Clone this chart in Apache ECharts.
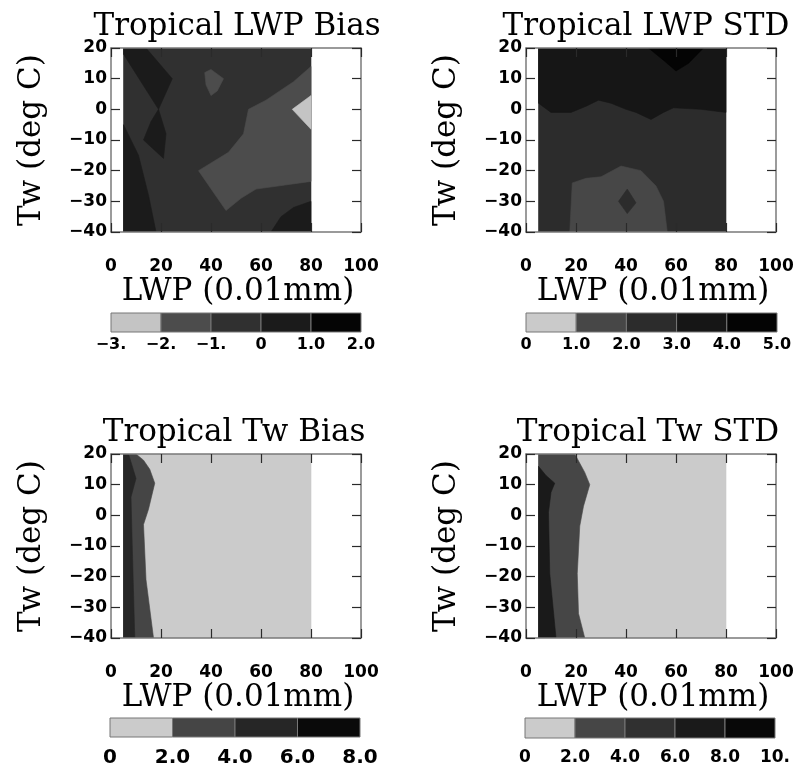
<!DOCTYPE html>
<html>
<head>
<meta charset="utf-8">
<style>html,body{margin:0;padding:0;background:#fff}#c{width:803px;height:771px}</style>
<script src="https://cdn.jsdelivr.net/npm/echarts@6/dist/echarts.min.js"></script>
</head>
<body>
<div id="c"></div>
<script>
// ---------------- data ----------------
const xTickValues = [0, 20, 40, 60, 80, 100];
const yTickValues = [-40, -30, -20, -10, 0, 10, 20];
const panelTitles = ['Tropical LWP Bias', 'Tropical LWP STD', 'Tropical Tw Bias', 'Tropical Tw STD'];
const xAxisName = 'LWP (0.01mm)';
const yAxisName = 'Tw (deg C)';

// contour levels (colour-bar boundaries) and their tick labels
const lwpBiasLevels = [-3, -2, -1, 0, 1, 2];
const lwpBiasLabels = ['\u22123.', '\u22122.', '\u22121.', '0', '1.0', '2.0'];
const lwpStdLevels = [0, 1, 2, 3, 4, 5];
const lwpStdLabels = ['0', '1.0', '2.0', '3.0', '4.0', '5.0'];
const twBiasLevels = [0, 2, 4, 6, 8];
const twBiasLabels = ['0', '2.0', '4.0', '6.0', '8.0'];
const twStdLevels = [0, 2, 4, 6, 8, 10];
const twStdLabels = ['0', '2.0', '4.0', '6.0', '8.0', '10.'];

// filled contour regions: value inside region, outline in (LWP, Tw) data coordinates
const lwpBiasRegions = [
  {value: -0.5, pts: [[5,-40],[80,-40],[80,20],[5,20]]},
  {value: 0.5,  pts: [[5,20],[14,20],[24.5,10],[19,0],[12,9],[5,18]]},
  {value: 0.5,  pts: [[19,0],[22,-8],[21,-16],[13,-10],[16,-4]]},
  {value: 0.5,  pts: [[5,-5],[11,-15],[15,-28],[18,-40],[5,-40]]},
  {value: 0.5,  pts: [[64,-40],[68,-35],[73,-32],[80,-30],[80,-40]]},
  {value: -1.5, pts: [[80,14],[73,9],[62,3],[55,0],[53,-8],[47,-14],[35,-20],[46,-33],[52,-29],[58,-26],[80,-23.5]]},
  {value: -2.5, pts: [[72.5,0],[80,4.5],[80,-6.5]]},
  {value: -1.5, pts: [[37.5,12],[40,13],[45,10],[42.5,6],[40,4.5],[38,8]]}
];
const lwpStdRegions = [
  {value: 2.5, pts: [[5,-40],[80,-40],[80,20],[5,20]]},
  {value: 3.5, pts: [[5,20],[80,20],[80,-1],[70,0],[59,0.5],[55,-1],[50,-3.3],[44,-1],[40,0],[34,2],[29,3],[24,1],[18,-1],[10,-1],[5,2]]},
  {value: 4.5, pts: [[49,20],[55,16],[60,12.5],[65,15],[71,20]]},
  {value: 1.5, pts: [[17.5,-40],[18.5,-24],[24,-22.5],[30,-22],[38,-18.5],[46,-20],[52,-25],[55,-30],[56.5,-40]]},
  {value: 2.5, pts: [[37,-30],[40.5,-26],[44,-30.5],[40.5,-34]]}
];
const twBiasRegions = [
  {value: 1, pts: [[5,-40],[80,-40],[80,20],[5,20]]},
  {value: 3, pts: [[5,20],[10,20],[13,18],[15.5,15],[17.5,10.5],[15,2],[13,-3],[14,-21],[17,-40],[5,-40]]},
  {value: 5, pts: [[5,20],[7,20],[10,12],[8,6],[8.5,-10],[9.5,-40],[5,-40]]}
];
const twStdRegions = [
  {value: 1, pts: [[5,-40],[80,-40],[80,20],[5,20]]},
  {value: 3, pts: [[5,20],[19.5,20],[23.5,14],[25.5,10],[23,3],[21.5,-3.5],[20.5,-19],[21,-32],[23.5,-40],[5,-40]]},
  {value: 7, pts: [[5,16],[8,13],[11.5,10.5],[10,7.5],[9,1],[9.5,-19],[12,-40],[5,-40]]}
];

// ---------------- style ----------------
const lwpBiasColors = ['#c4c4c4', '#4c4c4c', '#303030', '#1b1b1b', '#050505'];
const lwpStdColors  = ['#cacaca', '#474747', '#2c2c2c', '#161616', '#040404'];
const twBiasColors  = ['#cbcbcb', '#454545', '#262626', '#0a0a0a'];
const twStdColors   = ['#cbcbcb', '#464646', '#303030', '#1a1a1a', '#080808'];

const panels = [
  {regions: lwpBiasRegions, levels: lwpBiasLevels, labels: lwpBiasLabels, colors: lwpBiasColors,
   box: {left: 111, top: 48}, titleX: 237, bar: {left: 111, top: 313, width: 250, height: 19, font: 16, margin: 5}},
  {regions: lwpStdRegions, levels: lwpStdLevels, labels: lwpStdLabels, colors: lwpStdColors,
   box: {left: 526, top: 48}, titleX: 646, bar: {left: 526, top: 313, width: 251, height: 19, font: 16, margin: 5}},
  {regions: twBiasRegions, levels: twBiasLevels, labels: twBiasLabels, colors: twBiasColors,
   box: {left: 111, top: 454}, titleX: 234, bar: {left: 110, top: 718, width: 250, height: 19, font: 20, margin: 11}},
  {regions: twStdRegions, levels: twStdLevels, labels: twStdLabels, colors: twStdColors,
   box: {left: 526, top: 454}, titleX: 648, bar: {left: 525, top: 718, width: 250, height: 20, font: 17, margin: 11}}
];
const BOX_W = 250, BOX_H = 184;
const serif = 'DejaVu Serif';
const sans = 'DejaVu Sans';

function colorOf(v, levels, colors) {
  for (let i = 0; i < levels.length - 1; i++) {
    if (v >= levels[i] && v < levels[i + 1]) return colors[i];
  }
  return colors[colors.length - 1];
}
function minusFmt(v) { return String(v).replace('-', '\u2212'); }

const grid = [], xAxis = [], yAxis = [], series = [], title = [];
const lineStyle = {color: '#7a7a7a', width: 1.5};
const tickStyle = {color: '#2a2a2a', width: 1.2};

panels.forEach((p, i) => {
  // main panel
  const g = grid.length;
  grid.push({left: p.box.left, top: p.box.top, width: BOX_W, height: BOX_H, containLabel: false});
  const xi = xAxis.length;
  const xBase = {gridIndex: g, type: 'value', min: xTickValues[0], max: xTickValues[xTickValues.length - 1],
    interval: xTickValues[1] - xTickValues[0], z: 5, splitLine: {show: false},
    axisLine: {show: true, onZero: false, lineStyle},
    axisTick: {show: true, inside: true, length: 9, lineStyle: tickStyle}};
  xAxis.push(Object.assign({}, xBase, {position: 'bottom',
    axisLabel: {margin: 26, fontFamily: sans, fontSize: 17, fontWeight: 'bold', color: '#000', showMinLabel: true, showMaxLabel: true}}));
  xAxis.push(Object.assign({}, xBase, {position: 'top', axisLabel: {show: false}}));
  const yi = yAxis.length;
  const yBase = {gridIndex: g, type: 'value', min: yTickValues[0], max: yTickValues[yTickValues.length - 1],
    interval: yTickValues[1] - yTickValues[0], z: 5, splitLine: {show: false},
    axisLine: {show: true, onZero: false, lineStyle},
    axisTick: {show: true, inside: true, length: 9, lineStyle: tickStyle}};
  yAxis.push(Object.assign({}, yBase, {position: 'left',
    name: yAxisName, nameLocation: 'middle', nameGap: 64, nameRotate: 90,
    nameTextStyle: {fontFamily: serif, fontSize: 31, color: '#000'},
    axisLabel: {margin: 4, fontFamily: sans, fontSize: 17, fontWeight: 'bold', color: '#000', formatter: minusFmt}}));
  yAxis.push(Object.assign({}, yBase, {position: 'right', axisLabel: {show: false}}));

  series.push({
    type: 'custom', xAxisIndex: xi, yAxisIndex: yi, z: 2, silent: true, clip: true,
    data: p.regions.map(r => [r.pts[0][0], r.pts[0][1], r.value]),
    renderItem: function (params, api) {
      const r = p.regions[params.dataIndex];
      const c = colorOf(r.value, p.levels, p.colors);
      return {type: 'polygon', shape: {points: r.pts.map(pt => api.coord(pt))},
        style: {fill: c, stroke: c, lineWidth: 0.6}};
    }
  });

  // titles
  title.push({text: panelTitles[i], left: p.titleX, top: p.box.top - 37, textAlign: 'center', padding: 0,
    textStyle: {fontFamily: serif, fontSize: 31, fontWeight: 'normal', color: '#000'}});
  title.push({text: xAxisName, left: p.box.left + BOX_W / 2 + 2, top: p.box.top + BOX_H + 44, textAlign: 'center', padding: 0,
    textStyle: {fontFamily: serif, fontSize: 31, fontWeight: 'normal', color: '#000'}});

  // colour bar
  const cg = grid.length;
  grid.push({left: p.bar.left, top: p.bar.top, width: p.bar.width, height: p.bar.height});
  const cxi = xAxis.length;
  const step = p.levels[1] - p.levels[0];
  xAxis.push({gridIndex: cg, type: 'value', min: p.levels[0], max: p.levels[p.levels.length - 1], interval: step,
    axisLine: {show: false}, axisTick: {show: false}, splitLine: {show: false},
    axisLabel: {margin: p.bar.margin, fontFamily: sans, fontSize: p.bar.font, fontWeight: 'bold', color: '#000',
      showMinLabel: true, showMaxLabel: true,
      formatter: v => {
        const k = p.levels.findIndex(l => Math.abs(l - v) < 1e-6);
        return k >= 0 ? p.labels[k] : '';
      }}});
  const cyi = yAxis.length;
  yAxis.push({gridIndex: cg, type: 'value', min: 0, max: 1, show: false});
  series.push({
    type: 'custom', xAxisIndex: cxi, yAxisIndex: cyi, silent: true,
    data: p.levels.slice(0, -1).map((v, k) => [v, p.levels[k + 1]]),
    renderItem: function (params, api) {
      const a = api.coord([api.value(0), 1]);
      const b = api.coord([api.value(1), 0]);
      return {type: 'rect', shape: {x: a[0], y: a[1], width: b[0] - a[0], height: b[1] - a[1]},
        style: {fill: p.colors[params.dataIndex], stroke: '#777', lineWidth: 1}};
    }
  });
});

const chart = echarts.init(document.getElementById('c'), null, {renderer: 'canvas'});
chart.setOption({backgroundColor: '#fff', animation: false, title, grid, xAxis, yAxis, series});
</script>
</body>
</html>
